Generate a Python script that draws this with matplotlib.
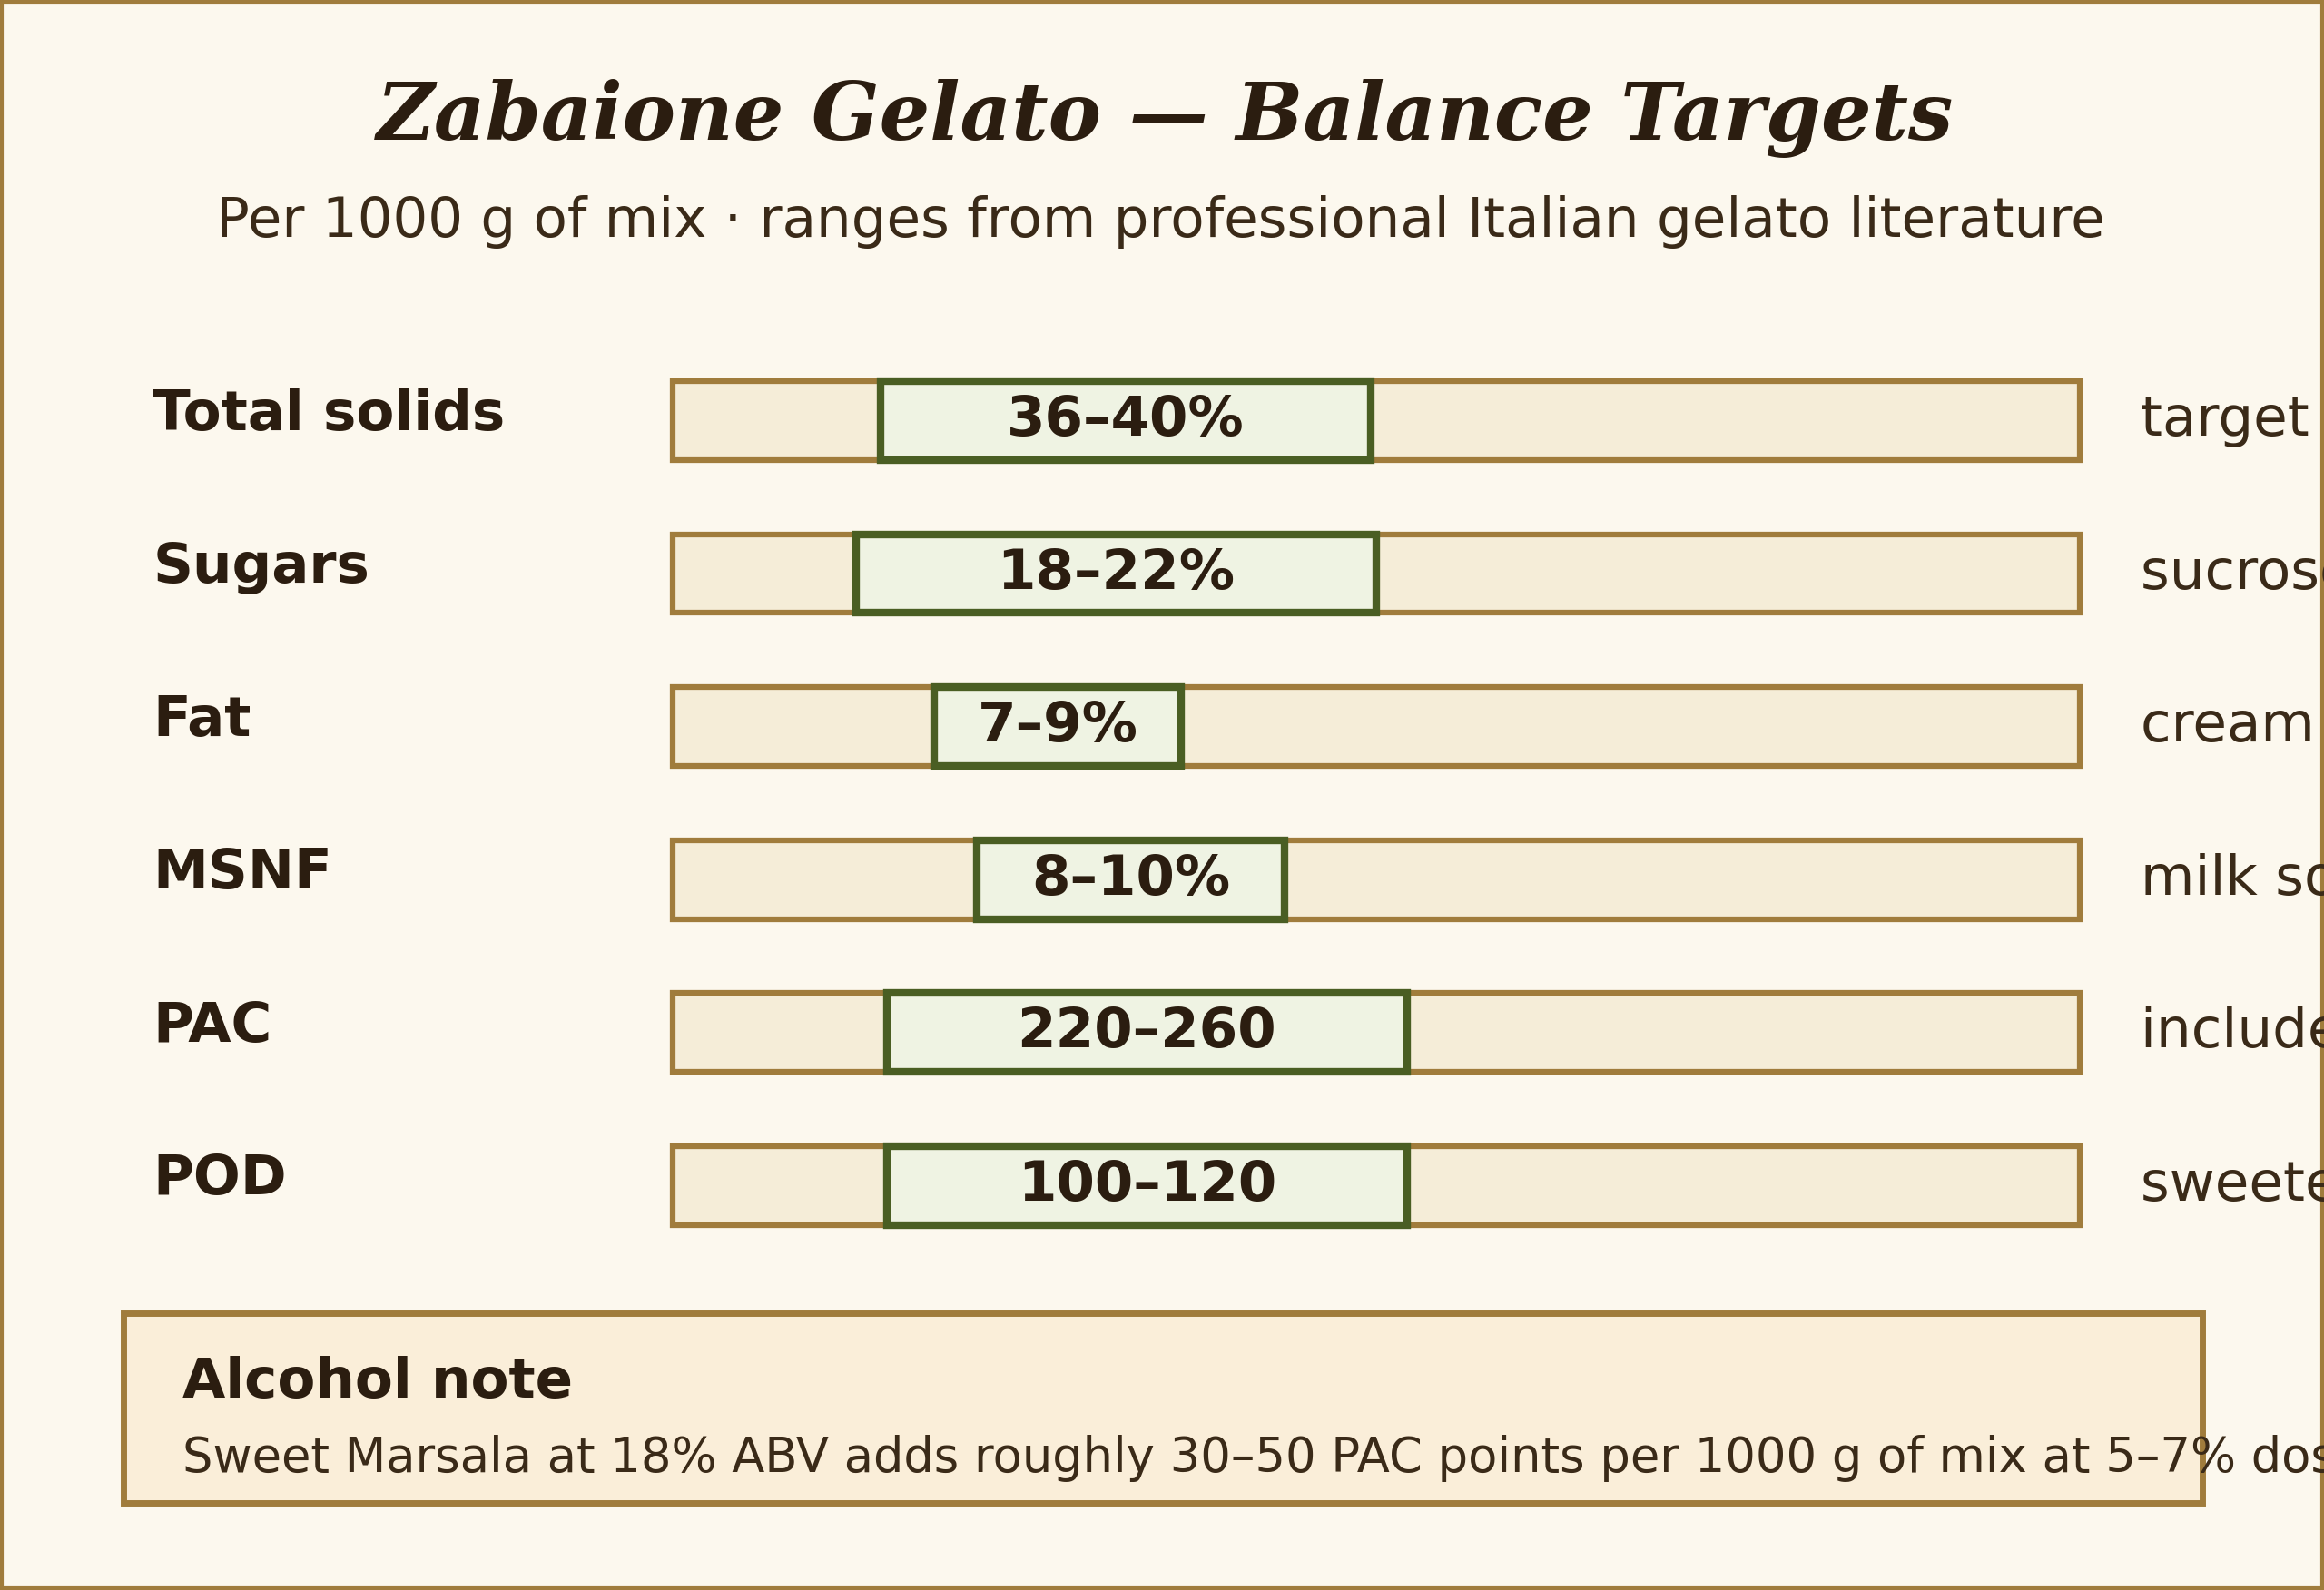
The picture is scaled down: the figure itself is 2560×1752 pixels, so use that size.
import matplotlib.pyplot as plt
from matplotlib.patches import Rectangle

# target ranges, as fraction of each row's scale track
labels = ["Total solids", "Sugars", "Fat", "MSNF", "PAC", "POD"]
range_text = ["36–40%", "18–22%", "7–9%", "8–10%", "220–260", "100–120"]
lo_frac = [0.1475, 0.130, 0.186, 0.216, 0.152, 0.152]
hi_frac = [0.496, 0.500, 0.361, 0.435, 0.522, 0.522]
notes = ["target for a rich custard base",
         "sucrose + dextrose blend",
         "cream and egg yolks",
         "milk solids non-fat",
         "includes alcohol contribution",
         "sweetening power"]

BG = "#fcf8ee"
GOLD = "#a07c3c"
TRACK = "#f5edd8"
GREEN = "#4a5e23"
GFILL = "#eff3e3"
INK = "#2b1d10"

W, H = 1568, 1073
fig = plt.figure(figsize=(25.6, 17.52), dpi=100, facecolor=BG)
ax = fig.add_axes([0, 0, 1, 1])
ax.set_xlim(0, W)
ax.set_ylim(H, 0)
ax.axis("off")

ax.add_patch(Rectangle((1, 1), W - 2, H - 2, fill=False, ec=GOLD, lw=3))

ax.text(W / 2 + 2, 80, "Zabaione Gelato — Balance Targets", ha="center", va="center",
        family="DejaVu Serif", weight="bold", style="italic", fontsize=63, color=INK)
ax.text(W / 2 - 1, 150, "Per 1000 g of mix · ranges from professional Italian gelato literature",
        ha="center", va="center", fontsize=44, color="#3a2a18")

x0, x1 = 454, 1403
bh = 53
for i, lab in enumerate(labels):
    yc = 284 + i * 103.2
    ax.text(103, yc - 4, lab, ha="left", va="center", fontsize=44, weight="bold", color=INK)
    ax.add_patch(Rectangle((x0, yc - bh / 2), x1 - x0, bh, fc=TRACK, ec=GOLD, lw=4.5))
    a = x0 + lo_frac[i] * (x1 - x0)
    b = x0 + hi_frac[i] * (x1 - x0)
    ax.add_patch(Rectangle((a, yc - bh / 2), b - a, bh, fc=GFILL, ec=GREEN, lw=6))
    ax.text((a + b) / 2, yc, range_text[i], ha="center", va="center",
            fontsize=44, weight="bold", color=INK)
    ax.text(1444, yc, notes[i], ha="left", va="center", fontsize=44, color="#3a2a18",
            clip_on=True)

ax.add_patch(Rectangle((83, 886), 1403, 128, fc="#faeed9", ec=GOLD, lw=5))
ax.text(123, 933, "Alcohol note", ha="left", va="center", fontsize=44, weight="bold", color=INK)
ax.text(123, 984, "Sweet Marsala at 18% ABV adds roughly 30–50 PAC points per 1000 g of mix "
        "at 5–7% dosage.", ha="left", va="center", fontsize=38, color="#3a2a18", clip_on=True)

fig.savefig("out.png", dpi=100, facecolor=BG)
